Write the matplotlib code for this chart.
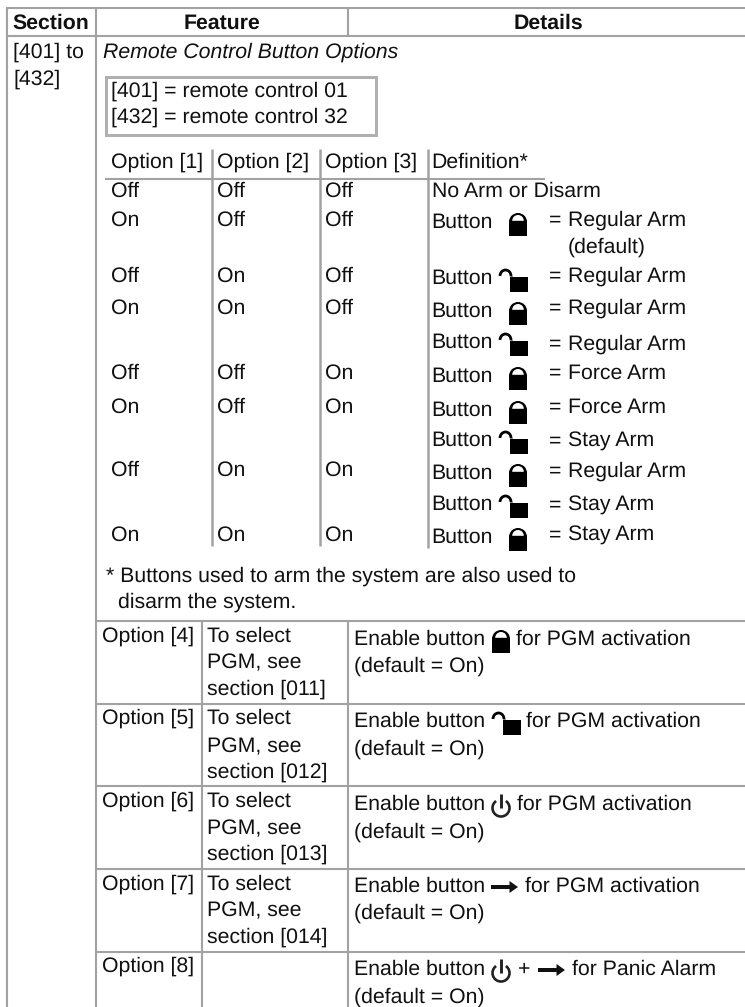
import numpy as np
import matplotlib
matplotlib.use("Agg")
import matplotlib.pyplot as plt
from matplotlib.patches import Rectangle, Wedge, Polygon, Arc

plt.rcParams['font.family'] = ['Liberation Sans', 'DejaVu Sans']
plt.rcParams['text.hinting'] = 'no_hinting'

# ---- content ----
headers = ["Section", "Feature", "Details"]
section_lines = ["[401] to", "[432]"]
title = "Remote Control Button Options"
box_lines = ["[401] = remote control 01", "[432] = remote control 32"]
option_heads = ["Option [1]", "Option [2]", "Option [3]", "Definition*"]
option1 = ["Off", "On", "Off", "On", "Off", "On", "Off", "On"]
option2 = ["Off", "Off", "On", "On", "Off", "Off", "On", "On"]
option3 = ["Off", "Off", "Off", "Off", "On", "On", "On", "On"]
no_arm = "No Arm or Disarm"
def_icons = ["closed", "open", "closed", "open", "closed", "closed", "open", "closed", "open", "closed"]
def_texts = ["Regular Arm", "Regular Arm", "Regular Arm", "Regular Arm", "Force Arm",
             "Force Arm", "Stay Arm", "Regular Arm", "Stay Arm", "Stay Arm"]
default_note = "(default)"
footnote = ["* Buttons used to arm the system are also used to", "disarm the system."]
lower_opts = ["Option [4]", "Option [5]", "Option [6]", "Option [7]", "Option [8]"]
lower_sel = [["To select", "PGM, see", "section [011]"], ["To select", "PGM, see", "section [012]"],
             ["To select", "PGM, see", "section [013]"], ["To select", "PGM, see", "section [014]"], []]
enable_default = "(default = On)"
for_pgm = "for PGM activation"
for_panic = "for Panic Alarm"

# ---- layout (pixels) ----
W, H = 745, 1007
FS = 15.3
TC = "#101010"
LC = "#a2a2a2"
LW = 2.1 * 72 / 100

fig = plt.figure(figsize=(W / 100, H / 100), dpi=100)
ax = fig.add_axes([0, 0, 1, 1])
ax.set_xlim(0, W)
ax.set_ylim(H, 0)
ax.axis("off")


def T(x, y, s, **kw):
    kw.setdefault("fontsize", FS)
    kw.setdefault("color", TC)
    ax.text(x, y, s, va="baseline", **kw)


def L(xs, ys, c=LC, lw=LW):
    ax.plot(xs, ys, color=c, lw=lw, solid_capstyle="butt", zorder=1)


def closed_lock(x, base):
    # x = left edge, base = text baseline
    ax.add_patch(Rectangle((x, base - 7), 18, 15, color="black", lw=0, zorder=3))
    ax.add_patch(Wedge((x + 9, base - 6), 9, 180, 360, color="black", lw=0, zorder=4))
    ax.add_patch(Wedge((x + 9, base - 7.2), 5.8, 180, 360, color="white", lw=0, zorder=5))


def open_lock(x, base):
    # x = left edge of shackle
    ax.add_patch(Rectangle((x + 11, base - 7), 17.5, 15, color="black", lw=0, zorder=3))
    ax.add_patch(Arc((x + 6.5, base - 8), 11, 12, theta1=180, theta2=360, color="black", lw=2.0, zorder=4))
    ax.plot([x + 12, x + 12], [base - 8, base - 3], color="black", lw=2.0, zorder=4, solid_capstyle="butt")


def power(cx, base):
    ax.add_patch(Arc((cx, base - 2), 17, 17, theta1=-55, theta2=235, color="#222222", lw=1.9, zorder=4))
    ax.plot([cx, cx], [base - 16, base - 2], color="#222222", lw=2.1, zorder=4, solid_capstyle="butt")


def arrow(x, base):
    yc = base - 5
    ax.add_patch(Rectangle((x, yc - 2.2), 20, 4.4, color="#111111", lw=0, zorder=4))
    ax.add_patch(Polygon([(x + 18.5, yc - 6), (x + 27, yc), (x + 18.5, yc + 6)], color="#111111", lw=0, zorder=4))


# ---- table rules ----
L([6, W], [8, 8])
L([6, W], [36, 36])
L([7, 7], [8, H])
L([96, 96], [8, H])
L([348, 348], [8, 36])
L([96, W], [621, 621])
for yy in [703.5, 786, 869, 952]:
    L([96, W], [yy, yy])
L([202, 202], [621, H])
L([348, 348], [621, H])

# ---- header ----
T(51, 28.5, headers[0], fontweight="bold", ha="center")
T(222, 28.5, headers[1], fontweight="bold", ha="center")
T(548, 28.5, headers[2], fontweight="bold", ha="center")

for y, s in zip([58, 85], section_lines):
    T(13, y, s)
T(103, 58, title, fontstyle="italic")

# remote-control box
ax.add_patch(Rectangle((105.5, 77), 270, 58, fill=False, ec="#b0b0b0", lw=3 * 72 / 100, zorder=1))
for y, s in zip([97, 123], box_lines):
    T(111, y, s)

# ---- option grid ----
for x, s in zip([111, 217, 325, 431.5], option_heads):
    T(x, 168, s)
for x, y1 in zip([212, 320, 427.5], [546, 546, 548]):
    L([x, x], [149, y1], lw=2.5 * 72 / 100)
L([105, 545], [179, 179])

row_base = [197, 226, 282, 314, 379, 413, 476, 541]
for y, a, b, c in zip(row_base, option1, option2, option3):
    T(111, y, a)
    T(217, y, b)
    T(325, y, c)

T(431.5, 197, no_arm)
btn_base = [228, 284, 317, 348, 382, 416, 446, 479, 510, 543]
def_base = [226, 282, 314, 350, 379, 413, 447, 477, 511, 541]
for yb, yd, ic, s in zip(btn_base, def_base, def_icons, def_texts):
    T(431.5, yb, "Button")
    if ic == "closed":
        closed_lock(509, yb)
    else:
        open_lock(499, yb)
    T(549, yd, "=")
    T(568, yd, s)
T(568, 253, default_note)

for (x, y), s in zip([(106, 582), (118, 608)], footnote):
    T(x, y, s)

# ---- lower rows ----
opt_base = [642, 724, 807, 890, 972]
sel_base = [[642, 668, 695], [724, 752, 778], [807, 834, 860], [890, 916, 943], []]
en_base = [645, 727, 810, 892, 975]
def_low = [672, 755, 838, 919, 1003]
for i, s in enumerate(lower_opts):
    T(101.5, opt_base[i], s)
    for y, t in zip(sel_base[i], lower_sel[i]):
        T(207, y, t)
    T(354, en_base[i], "Enable button")
    T(354, def_low[i], enable_default)

closed_lock(492, en_base[0])
T(516, en_base[0], for_pgm)
open_lock(492, en_base[1])
T(526, en_base[1], for_pgm)
power(501, en_base[2])
T(517, en_base[2], for_pgm)
arrow(491, en_base[3])
T(525, en_base[3], for_pgm)
power(501, en_base[4])
T(518, en_base[4], "+")
arrow(538, en_base[4])
T(572, en_base[4], for_panic)

fig.savefig("out.png", dpi=100, facecolor="white")
